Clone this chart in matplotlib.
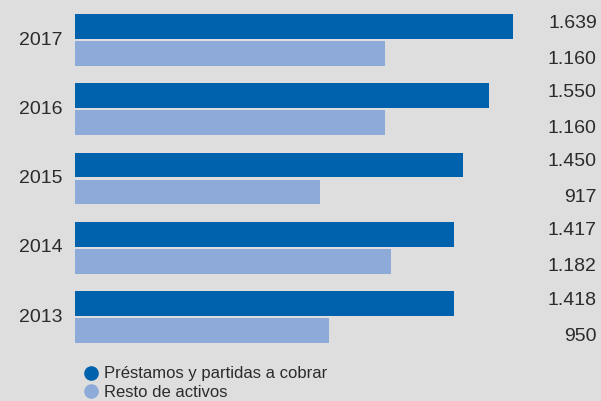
import matplotlib.pyplot as plt
from matplotlib.lines import Line2D
import numpy as np

# Datos (millones de euros)
anios = ['2013', '2014', '2015', '2016', '2017']
prestamos = [1418, 1417, 1450, 1550, 1639]
resto = [950, 1182, 917, 1160, 1160]
etiquetas_prestamos = ['1.418', '1.417', '1.450', '1.550', '1.639']
etiquetas_resto = ['950', '1.182', '917', '1.160', '1.160']

color_oscuro = '#0061ad'
color_claro = '#8eaad9'
fondo = '#dedede'
texto = '#2b2b2b'

plt.rcParams['font.family'] = ['Liberation Sans', 'DejaVu Sans']

fig = plt.figure(figsize=(6.01, 4.01), dpi=100, facecolor=fondo)
ax = fig.add_axes([75 / 601, 0, 526 / 601, 1])
ax.set_facecolor(fondo)

y = np.arange(len(anios))
alto = 0.36
desp = 0.195

ax.barh(y + desp, prestamos, height=alto, color=color_oscuro)
ax.barh(y - desp, resto, height=alto, color=color_claro)

ax.set_xlim(0, 1968)
ax.set_ylim(-1.213, 4.578)
ax.axis('off')

# Etiquetas de año y valores
for i in range(len(anios)):
    ax.annotate(anios[i], xy=(0, y[i]), xytext=(-9, 0), textcoords='offset points',
                ha='right', va='center', fontsize=14, color=texto)
    ax.annotate(etiquetas_prestamos[i], xy=(1, y[i] + desp), xycoords=('axes fraction', 'data'),
                xytext=(-3, 2.5), textcoords='offset points',
                ha='right', va='center', fontsize=14, color=texto)
    ax.annotate(etiquetas_resto[i], xy=(1, y[i] - desp), xycoords=('axes fraction', 'data'),
                xytext=(-3, -4), textcoords='offset points',
                ha='right', va='center', fontsize=14, color=texto)

# Leyenda
manejadores = [
    Line2D([], [], marker='o', linestyle='', markersize=9.5, color=color_oscuro),
    Line2D([], [], marker='o', linestyle='', markersize=9.5, color=color_claro),
]
fig.legend(manejadores, ['Préstamos y partidas a cobrar', 'Resto de activos'],
           loc='upper left', bbox_to_anchor=(72 / 601, 1 - 358 / 401), frameon=False,
           fontsize=12, labelcolor=texto, handletextpad=0.15, labelspacing=0.2,
           borderpad=0, handlelength=1.3)

fig.savefig('out.png', dpi=100, facecolor=fondo)
